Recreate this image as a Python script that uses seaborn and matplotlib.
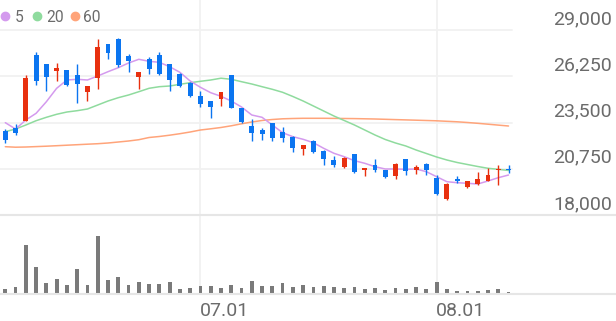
import numpy as np
import matplotlib
matplotlib.use("Agg")
import matplotlib.pyplot as plt
import seaborn as sns
from matplotlib import transforms as mtrans
from matplotlib.lines import Line2D

# ---------------- data ----------------
opens = [23000, 23200, 23600, 27500, 27000, 26550, 26600, 26300, 25300, 26150,
         28150, 28450, 27450, 26200, 27300, 27500, 26950, 26400, 25850, 25100,
         24800, 24900, 26300, 24350, 23300, 23050, 23500, 22950, 22650, 21950,
         22400, 21800, 21300, 20850, 21600, 20700, 21000, 20650, 20300, 21300,
         20650, 21050, 20200, 18950, 20150, 19650, 19850, 20050, 20650, 20750]
highs = [23100, 23400, 26350, 27700, 27000, 27050, 26650, 27000, 25650, 28450,
         28150, 28500, 27600, 26500, 27400, 27700, 27000, 26450, 25900, 25350,
         24800, 25300, 26300, 24350, 23700, 23150, 23500, 23250, 22700, 22150,
         22450, 21850, 21500, 21450, 21650, 20750, 21350, 20650, 21100, 21300,
         21000, 21100, 20400, 19900, 20300, 20050, 20550, 20800, 20950, 20950]
lows = [22300, 22750, 23600, 25750, 25350, 25950, 25700, 24650, 24800, 25500,
        27300, 26800, 26500, 25500, 26400, 26350, 25400, 25600, 25000, 24400,
        23750, 24500, 24350, 23450, 22400, 22450, 22400, 22350, 21750, 21550,
        21700, 20950, 20850, 20800, 20500, 20300, 20550, 20200, 20150, 20350,
        20450, 20400, 19200, 18900, 19900, 19600, 19800, 20000, 19800, 20500]
closes = [22450, 22900, 26150, 25950, 26200, 26750, 25750, 25800, 25650, 28000,
          27650, 26900, 27150, 26500, 26700, 26400, 26050, 25650, 25050, 24600,
          24400, 25300, 24350, 23550, 22900, 22800, 22550, 22550, 22000, 22150,
          21750, 21350, 20950, 21400, 20550, 20750, 20700, 20250, 21050, 20600,
          20850, 20650, 19250, 19850, 20000, 20000, 20150, 20400, 20700, 20650]

ma5 = [23490, 23113, 23649, 24047, 24737, 25533, 26027, 26069, 26027, 26265,
       26521, 26758, 27038, 27258, 27139, 27079, 26818, 26485, 25968, 25593,
       25272, 25058, 24778, 24422, 23946, 23809, 23351, 22894, 22656, 22501,
       22299, 21966, 21669, 21466, 21229, 21074, 20872, 20735, 20735, 20717,
       20735, 20575, 20277, 19980, 19920, 19885, 19843, 20022, 20218, 20378]
ma20 = [22953, 23113, 23351, 23607, 23809, 23988, 24124, 24202, 24303, 24540,
        24778, 24975, 25135, 25331, 25534, 25629, 25670, 25771, 25866, 25950,
        26027, 26134, 26069, 25926, 25789, 25629, 25474, 25296, 25046, 24778,
        24481, 24184, 23886, 23619, 23351, 23054, 22757, 22489, 22281, 22103,
        21865, 21657, 21449, 21270, 21122, 21003, 20884, 20777, 20717, 20646]
ma60 = [22061, 22031, 22043, 22067, 22091, 22120, 22150, 22180, 22210, 22239,
        22281, 22340, 22400, 22477, 22608, 22668, 22745, 22834, 22935, 23054,
        23125, 23203, 23304, 23423, 23530, 23619, 23678, 23720, 23738, 23750,
        23750, 23750, 23744, 23738, 23732, 23720, 23708, 23690, 23672, 23655,
        23637, 23619, 23601, 23571, 23542, 23500, 23452, 23399, 23345, 23292]

volume = [43000, 63000, 483000, 267000, 103000, 147000, 83000, 247000, 83000, 580000,
          137000, 163000, 87000, 117000, 93000, 93000, 117000, 47000, 57000, 77000,
          77000, 53000, 83000, 57000, 127000, 73000, 80000, 103000, 63000, 83000,
          70000, 73000, 70000, 57000, 67000, 43000, 53000, 35000, 53000, 50000,
          63000, 43000, 113000, 43000, 27000, 23000, 27000, 33000, 50000, 17000]

y_ticks = [18000, 20750, 23500, 26250, 29000]
x_tick_pos = [19, 42]
x_tick_labels = ["07.01", "08.01"]
legend_labels = ["5", "20", "60"]

# ---------------- style ----------------
RED = "#e8300f"
BLUE = "#0b75f0"
MA_COLORS = ["#d49aee", "#8fdb9e", "#ffa47a"]
GRID = "#f1f1f1"
SEP = "#e6e6e6"
TXT = "#6b6b6b"

sns.set_theme(style="white")
plt.rcParams["font.family"] = ["Roboto", "DejaVu Sans"]

W, H = 616, 321
fig = plt.figure(figsize=(W / 100, H / 100), dpi=100)
fig.patch.set_facecolor("white")

ax = fig.add_axes([0, (H - 215) / H, 1, 215 / H])
axv = fig.add_axes([0, (H - 293.7) / H, 1, 78.7 / H])

step = 10.27
x0 = -5.3 / step
xlim = (x0, x0 + W / step)
px_per_won = 185 / 11000
ylim = (18000, 29000 + 30 / px_per_won)

idx = np.arange(len(opens))
o = np.array(opens, dtype=float)
c = np.array(closes, dtype=float)
up = c >= o
cols = np.where(up, RED, BLUE)

# grid
for t in y_ticks[1:]:
    ax.axhline(t, xmin=0, xmax=512 / W, color=GRID, lw=1.3, zorder=0)
for p in x_tick_pos:
    ax.axvline(p, color=GRID, lw=1.3, zorder=0)
    axv.axvline(p, color=GRID, lw=1.3, zorder=0)

# moving averages
for vals, col in zip([ma60, ma20, ma5], [MA_COLORS[2], MA_COLORS[1], MA_COLORS[0]]):
    sns.lineplot(x=idx, y=vals, color=col, linewidth=1.1, ax=ax, zorder=2)

# candles
ax.vlines(idx, lows, highs, colors=cols, lw=1.0, zorder=3)
bottoms = np.minimum(o, c)
heights = np.maximum(np.abs(c - o), 70)
ax.bar(idx, heights, bottom=bottoms, width=0.48, color=cols, linewidth=0, zorder=4)

ax.set_xlim(*xlim)
ax.set_ylim(*ylim)
ax.set_xticks([])
ax.set_yticks([])
ax.set_xlabel("")
ax.set_ylabel("")
for s in ax.spines.values():
    s.set_visible(False)
ax.set_facecolor("none")

# y labels
ytrans = mtrans.blended_transform_factory(ax.transAxes, ax.transData) + \
    mtrans.ScaledTranslation(0, 6 / 100, fig.dpi_scale_trans)
for t in y_ticks:
    ax.text(612 / W, t, f"{t:,}", transform=ytrans, ha="right", va="baseline",
            fontsize=14, color=TXT, clip_on=False)

# volume
axv.bar(idx, volume, width=0.37, color="#7a7a7a", linewidth=0, zorder=2)
axv.set_xlim(*xlim)
axv.set_ylim(0, 787000)
axv.set_xticks([])
axv.set_yticks([])
axv.set_xlabel("")
axv.set_ylabel("")
axv.set_facecolor("none")
for side in ["left", "right"]:
    axv.spines[side].set_visible(False)
for side in ["top", "bottom"]:
    axv.spines[side].set_visible(True)
    axv.spines[side].set_color(SEP)
    axv.spines[side].set_linewidth(1.5)

xtrans = mtrans.blended_transform_factory(axv.transData, axv.transAxes) + \
    mtrans.ScaledTranslation(-1 / 100, -22 / 100, fig.dpi_scale_trans)
for p, lab in zip(x_tick_pos, x_tick_labels):
    axv.text(p, 0, lab, transform=xtrans, ha="left", va="baseline",
             fontsize=14, color=TXT, clip_on=False)

# legend
circ_x = [4.5, 37.0, 74.5]
text_x = [14.5, 46.0, 83.0]
for cx, tx, lab, col in zip(circ_x, text_x, legend_labels, MA_COLORS):
    fig.add_artist(Line2D([cx / W], [1 - 16 / H], marker="o", markersize=6,
                          color=col, linestyle="none", transform=fig.transFigure))
    fig.text(tx / W, 1 - 21.7 / H, lab, ha="left", va="baseline",
             fontsize=11.2, color=TXT)

fig.savefig("out.png", dpi=100, facecolor="white")
